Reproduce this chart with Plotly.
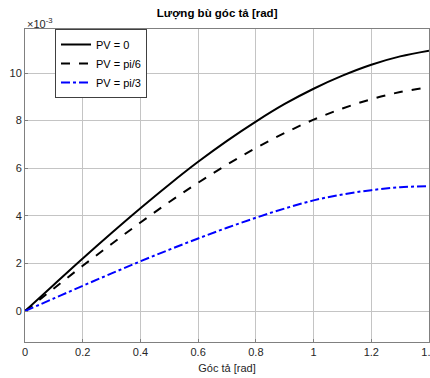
import plotly.graph_objects as go

x_vals = [0.0, 0.1, 0.2, 0.3, 0.4, 0.5, 0.6, 0.7, 0.8, 0.9, 1.0, 1.1, 1.2, 1.3, 1.4]
pv0 = [0.0, 1.11, 2.21, 3.28, 4.32, 5.32, 6.27, 7.15, 7.96, 8.70, 9.34, 9.89, 10.35, 10.70, 10.94]
pv_pi6 = [0.0, 0.95, 1.90, 2.82, 3.72, 4.58, 5.39, 6.15, 6.85, 7.48, 8.04, 8.51, 8.90, 9.20, 9.40]
pv_pi3 = [0.0, 0.53, 1.06, 1.58, 2.09, 2.58, 3.05, 3.50, 3.92, 4.31, 4.65, 4.90, 5.08, 5.20, 5.25]
series_names = ["PV = 0", "PV = pi/6", "PV = pi/3"]
x_ticks = [0, 0.2, 0.4, 0.6, 0.8, 1, 1.2, 1.4]
x_tick_text = ["0", "0.2", "0.4", "0.6", "0.8", "1", "1.2", "1.4"]
y_ticks = [0, 2, 4, 6, 8, 10]

scale = 1e-3
FONT = "Liberation Sans, Arial, sans-serif"

fig = go.Figure()
fig.add_trace(go.Scatter(x=x_vals, y=[v * scale for v in pv0], mode="lines",
                         name=series_names[0], line=dict(color="black", width=2, shape="spline")))
fig.add_trace(go.Scatter(x=x_vals, y=[v * scale for v in pv_pi6], mode="lines",
                         name=series_names[1], line=dict(color="black", width=2, dash="dash", shape="spline")))
fig.add_trace(go.Scatter(x=x_vals, y=[v * scale for v in pv_pi3], mode="lines",
                         name=series_names[2], line=dict(color="blue", width=2, dash="dashdot", shape="spline")))

fig.update_layout(
    width=430, height=378,
    margin=dict(l=25, r=1, t=29, b=36, autoexpand=False),
    paper_bgcolor="white", plot_bgcolor="white",
    font=dict(family=FONT, size=11, color="#262626"),
    title=dict(text="<b>Lượng bù góc tả [rad]</b>", x=0.505, xanchor="center",
               y=1 - 13 / 378, yanchor="middle", font=dict(size=11.5, color="black")),
    showlegend=True,
    legend=dict(x=30 / 404, y=1.0, xanchor="left", yanchor="top",
                bgcolor="white", bordercolor="#404040", borderwidth=1,
                font=dict(size=11, color="black"), itemwidth=30,
                tracegroupgap=0),
)
fig.update_xaxes(
    range=[0, 1.4], tickvals=x_ticks, ticktext=x_tick_text,
    ticklabeloverflow="allow", automargin=False,
    showgrid=True, gridcolor="#c4c4c4", gridwidth=1,
    showline=True, linecolor="#808080", linewidth=1, mirror=True,
    zeroline=False, ticks="inside", ticklen=3, tickcolor="#808080",
    title=dict(text="Góc tả [rad]", font=dict(size=11, color="#262626"), standoff=7),
)
fig.update_yaxes(
    range=[-1.3 * scale, 11.85 * scale], tickvals=[t * scale for t in y_ticks],
    ticktext=[str(t) for t in y_ticks], automargin=False,
    showgrid=True, gridcolor="#c4c4c4", gridwidth=1,
    showline=True, linecolor="#808080", linewidth=1, mirror=True,
    zeroline=False, ticks="inside", ticklen=3, tickcolor="#808080",
)
fig.add_annotation(text="×10<sup>-3</sup>", xref="paper", yref="paper",
                   x=0.0, y=1.0, xanchor="left", yanchor="bottom", showarrow=False,
                   font=dict(size=11, color="#262626"), yshift=-3)

fig.write_html("out.html")
